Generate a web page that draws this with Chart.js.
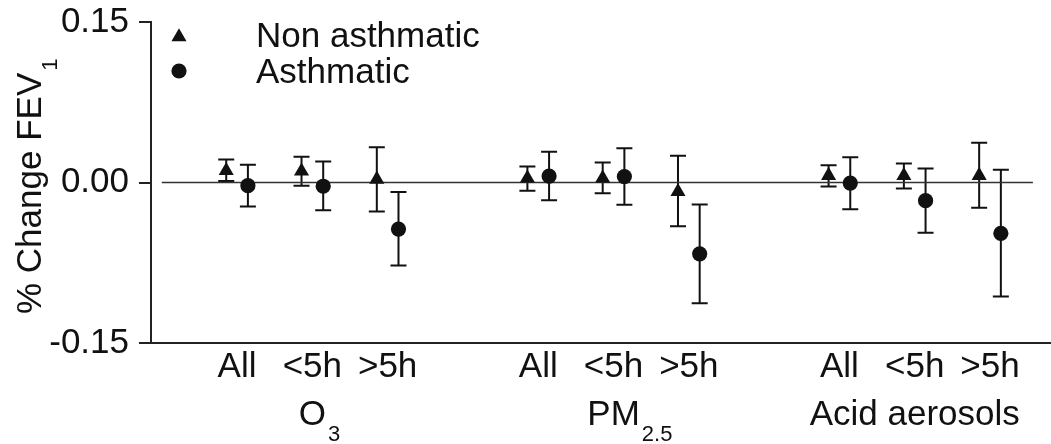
<!DOCTYPE html>
<html>
<head>
<meta charset="utf-8">
<script src="https://cdn.jsdelivr.net/npm/chart.js@4/dist/chart.umd.min.js"></script>
<style>
  body { margin: 0; background: #fff; }
  canvas { display: block; }
</style>
</head>
<body>
<canvas id="chart" width="1051" height="444"></canvas>
<script>
// Data
var seriesNames = ['Non asthmatic', 'Asthmatic'];
var tickLabels = ['All', '<5h', '>5h', 'All', '<5h', '>5h', 'All', '<5h', '>5h'];
var tickPositions = [0, 1, 2, 4, 5, 6, 8, 9, 10];
var groupNames = ['O', 'PM', 'Acid aerosols'];
var groupSubs = ['3', '2.5', ''];
var groupCenters = [1, 5, 9];
var yTicks = [-0.15, 0, 0.15];

var nonAsthmatic     = [0.011, 0.0105, 0.003, 0.004, 0.004, -0.0085, 0.0065, 0.0063, 0.0065];
var nonAsthmaticLow  = [0.0015, -0.003, -0.027, -0.0077, -0.010, -0.041, -0.0037, -0.0056, -0.0237];
var nonAsthmaticHigh = [0.0215, 0.024, 0.033, 0.015, 0.0187, 0.025, 0.0162, 0.0178, 0.0372];

var asthmatic     = [-0.003, -0.0035, -0.0435, 0.006, 0.0055, -0.0667, -0.0005, -0.017, -0.0475];
var asthmaticLow  = [-0.0225, -0.026, -0.0775, -0.0166, -0.0209, -0.1128, -0.025, -0.0469, -0.1066];
var asthmaticHigh = [0.0165, 0.0197, -0.0088, 0.0288, 0.0319, -0.0206, 0.0237, 0.0131, 0.0119];

// reference line at zero
var zeroLine = [-1.0, 10.57];

var FONT = '"Liberation Sans", Arial, sans-serif';
var SIZE = 35;
var SUB = 22;
var INK = '#111';
var OFFSET = 0.144;

function points(values, shift) {
    return values.map(function (v, i) {
        return { x: tickPositions[i] + shift, y: v };
    });
}

// Error bars with caps, drawn through the scales
var errorBars = {
    id: 'errorBars',
    beforeDatasetsDraw: function (chart) {
        var ctx = chart.ctx, xs = chart.scales.x, ys = chart.scales.y;
        ctx.save();
        ctx.strokeStyle = INK;
        ctx.lineWidth = 2;
        chart.data.datasets.forEach(function (ds) {
            if (!ds.errLow) return;
            ds.data.forEach(function (p, i) {
                var x = xs.getPixelForValue(p.x);
                var y1 = ys.getPixelForValue(ds.errLow[i]);
                var y2 = ys.getPixelForValue(ds.errHigh[i]);
                ctx.beginPath();
                ctx.moveTo(x, y1); ctx.lineTo(x, y2);
                ctx.moveTo(x - 8, y1); ctx.lineTo(x + 8, y1);
                ctx.moveTo(x - 8, y2); ctx.lineTo(x + 8, y2);
                ctx.stroke();
            });
        });
        ctx.restore();
    }
};

// Legend, group names, axis title
var decorations = {
    id: 'decorations',
    afterDraw: function (chart) {
        var ctx = chart.ctx, xs = chart.scales.x;
        ctx.save();
        ctx.fillStyle = INK;

        // legend markers
        var lx = 179;
        var r = 8.7;
        ctx.beginPath();
        ctx.moveTo(lx, 37 - r);
        ctx.lineTo(lx + r * 0.866, 37 + r / 2);
        ctx.lineTo(lx - r * 0.866, 37 + r / 2);
        ctx.closePath();
        ctx.fill();
        ctx.beginPath();
        ctx.arc(lx, 71, 7.6, 0, Math.PI * 2);
        ctx.fill();

        ctx.font = SIZE + 'px ' + FONT;
        ctx.textAlign = 'left';
        ctx.textBaseline = 'alphabetic';
        ctx.fillText(seriesNames[0], 256, 47);
        ctx.fillText(seriesNames[1], 256, 83);

        // group names with subscripts
        groupNames.forEach(function (name, i) {
            var cx = xs.getPixelForValue(groupCenters[i]);
            ctx.font = SIZE + 'px ' + FONT;
            ctx.textAlign = 'center';
            ctx.fillText(name, cx, 425);
            var w = ctx.measureText(name).width;
            if (groupSubs[i]) {
                ctx.font = SUB + 'px ' + FONT;
                ctx.textAlign = 'left';
                ctx.fillText(groupSubs[i], cx + w / 2 + 2, 441);
            }
        });

        // rotated y title with subscript
        ctx.translate(41, 314);
        ctx.rotate(-Math.PI / 2);
        ctx.font = SIZE + 'px ' + FONT;
        ctx.textAlign = 'left';
        ctx.fillText('% Change FEV', 0, 0);
        var tw = ctx.measureText('% Change FEV').width;
        ctx.font = SUB + 'px ' + FONT;
        ctx.fillText('1', tw + 2, 16);
        ctx.restore();
    }
};

new Chart(document.getElementById('chart'), {
    type: 'scatter',
    data: {
        datasets: [
            {
                label: seriesNames[0],
                data: points(nonAsthmatic, -OFFSET),
                errLow: nonAsthmaticLow,
                errHigh: nonAsthmaticHigh,
                pointStyle: 'triangle',
                pointRadius: 8.7,
                backgroundColor: INK,
                borderColor: INK,
                borderWidth: 0,
                order: 1
            },
            {
                label: seriesNames[1],
                data: points(asthmatic, OFFSET),
                errLow: asthmaticLow,
                errHigh: asthmaticHigh,
                pointStyle: 'circle',
                pointRadius: 7.6,
                backgroundColor: INK,
                borderColor: INK,
                borderWidth: 0,
                order: 1
            },
            {
                type: 'line',
                label: 'zero',
                data: [{ x: zeroLine[0], y: 0 }, { x: zeroLine[1], y: 0 }],
                borderColor: '#333',
                borderWidth: 1.5,
                pointRadius: 0,
                order: 5
            }
        ]
    },
    options: {
        responsive: false,
        animation: false,
        layout: { autoPadding: false, padding: { top: 22, right: 0, left: 0, bottom: 0 } },
        plugins: {
            legend: { display: false },
            tooltip: { enabled: false }
        },
        scales: {
            x: {
                type: 'linear',
                min: -1.143,
                max: 10.81,
                afterBuildTicks: function (scale) {
                    scale.ticks = tickPositions.map(function (v) { return { value: v }; });
                },
                afterFit: function (scale) {
                    scale.height = 101;
                    scale.paddingLeft = 0;
                    scale.paddingRight = 0;
                },
                ticks: {
                    autoSkip: false,
                    maxRotation: 0,
                    padding: 3,
                    color: INK,
                    font: { family: FONT, size: SIZE },
                    callback: function (value) {
                        return tickLabels[tickPositions.indexOf(value)];
                    }
                },
                grid: { drawOnChartArea: false, drawTicks: false },
                border: { color: '#222', width: 2 }
            },
            y: {
                min: -0.15,
                max: 0.15,
                afterBuildTicks: function (scale) {
                    scale.ticks = yTicks.map(function (v) { return { value: v }; });
                },
                afterFit: function (scale) {
                    scale.width = 151;
                    scale.paddingTop = 0;
                    scale.paddingBottom = 0;
                },
                ticks: {
                    padding: 10,
                    color: INK,
                    font: { family: FONT, size: SIZE },
                    callback: function (value) { return value.toFixed(2); }
                },
                grid: { drawOnChartArea: false, drawTicks: true, tickLength: 12, color: '#222', lineWidth: 2 },
                border: { color: '#222', width: 2 }
            }
        }
    },
    plugins: [errorBars, decorations]
});
</script>
</body>
</html>
